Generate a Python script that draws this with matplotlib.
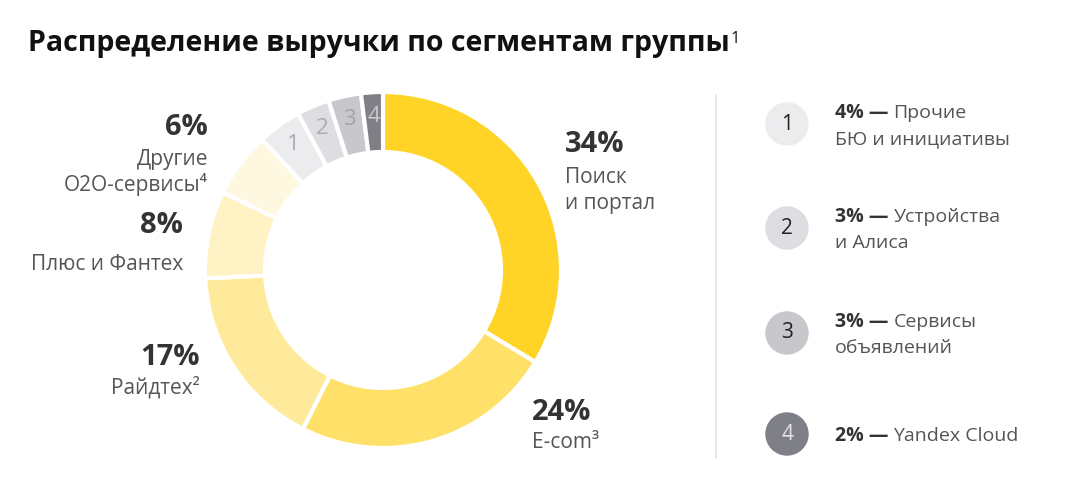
import matplotlib
matplotlib.use("Agg")
import matplotlib.pyplot as plt
from matplotlib.patches import Circle
import numpy as np

plt.rcParams['font.family'] = ['Open Sans', 'DejaVu Sans']

# Данные
shares = [34, 24, 17, 8, 6, 4, 3, 3, 2]
slice_tags = ['', '', '', '', '', '1', '2', '3', '4']
colors = ['#FFD426', '#FFE169', '#FFEA9C', '#FFF2C4', '#FFF8E1',
          '#ECECEF', '#DEDEE2', '#C7C7CC', '#7F7F87']

big_pct = ['34%', '24%', '17%', '8%', '6%']
big_names = ['Поиск\nи портал', 'E-com³', 'Райдтех²', 'Плюс и Фантех', 'Другие\nO2O-сервисы⁴']

legend_num = ['1', '2', '3', '4']
legend_pct = ['4% —', '3% —', '3% —', '2% —']
legend_line1 = ['Прочие', 'Устройства', 'Сервисы', 'Yandex Cloud']
legend_line2 = ['БЮ и инициативы', 'и Алиса', 'объявлений', '']

W, H = 1068, 483
fig = plt.figure(figsize=(W / 100, H / 100), dpi=100)
ax = fig.add_axes([0, 0, 1, 1])

def Y(y):
    return H - y

# Заголовок
ax.text(28, Y(51), 'Распределение выручки по сегментам группы', fontsize=20.5,
        fontweight='bold', color='#111111', va='baseline', ha='left')
ax.text(731, Y(43), '1', fontsize=12, color='#111111', va='baseline', ha='left')

# Кольцевая диаграмма
cx, cy, R = 383, 270, 178
wedges, _ = ax.pie(shares, colors=colors, startangle=90, counterclock=False,
                   center=(cx, Y(cy)), radius=R, frame=True,
                   wedgeprops=dict(width=60, edgecolor='white', linewidth=3))
ax.set_xlim(0, W)
ax.set_ylim(0, H)
ax.axis('off')

tag_colors = {'1': '#ABABB0', '2': '#ABABB0', '3': '#A2A2A8', '4': '#C9C9CD'}
for w, tag in zip(wedges, slice_tags):
    if not tag:
        continue
    ang = np.deg2rad((w.theta1 + w.theta2) / 2)
    r = R - 24
    ax.text(cx + r * np.cos(ang), Y(cy) + r * np.sin(ang), tag, fontsize=16,
            color=tag_colors[tag], ha='center', va='center')

# Подписи сегментов
pct_kw = dict(fontsize=21, fontweight='bold', color='#333333', va='baseline')
name_kw = dict(fontsize=15, color='#555555', va='baseline')
pos = [(565, 152, 183, 'left'), (532, 420, 448, 'left'), (200, 365, 393, 'right'),
       (183, 233, 270, 'right'), (208, 135, 165, 'right')]
for (x, yp, yn, ha), p, n in zip(pos, big_pct, big_names):
    ax.text(x, Y(yp), p, ha=ha, **pct_kw)
    for k, line in enumerate(n.split('\n')):
        ax.text(x, Y(yn + 26 * k), line, ha=ha, **name_kw)

# Разделитель
ax.plot([716, 716], [Y(95), Y(458)], color='#E3E3E3', linewidth=1.2)

# Легенда
circle_cols = colors[5:]
circle_y = [124, 228, 333, 434]
fig.canvas.draw()
renderer = fig.canvas.get_renderer()
for i in range(4):
    yc = circle_y[i]
    ax.add_patch(Circle((787, Y(yc)), 21, color=circle_cols[i], zorder=3))
    ax.text(787, Y(yc), legend_num[i], fontsize=15, ha='center', va='center',
            color='#E6E6E8' if i == 3 else '#222222', zorder=4)
    base = yc - 6 if legend_line2[i] else yc + 7
    t = ax.text(835, Y(base), legend_pct[i], fontsize=14, fontweight='bold',
                color='#333333', va='baseline', ha='left')
    bb = t.get_window_extent(renderer)
    ax.text(bb.x1 + 5, Y(base), legend_line1[i], fontsize=14, color='#555555',
            va='baseline', ha='left')
    if legend_line2[i]:
        ax.text(835, Y(base + 26), legend_line2[i], fontsize=14, color='#555555',
                va='baseline', ha='left')

fig.savefig('out.png', dpi=100, facecolor='white')
